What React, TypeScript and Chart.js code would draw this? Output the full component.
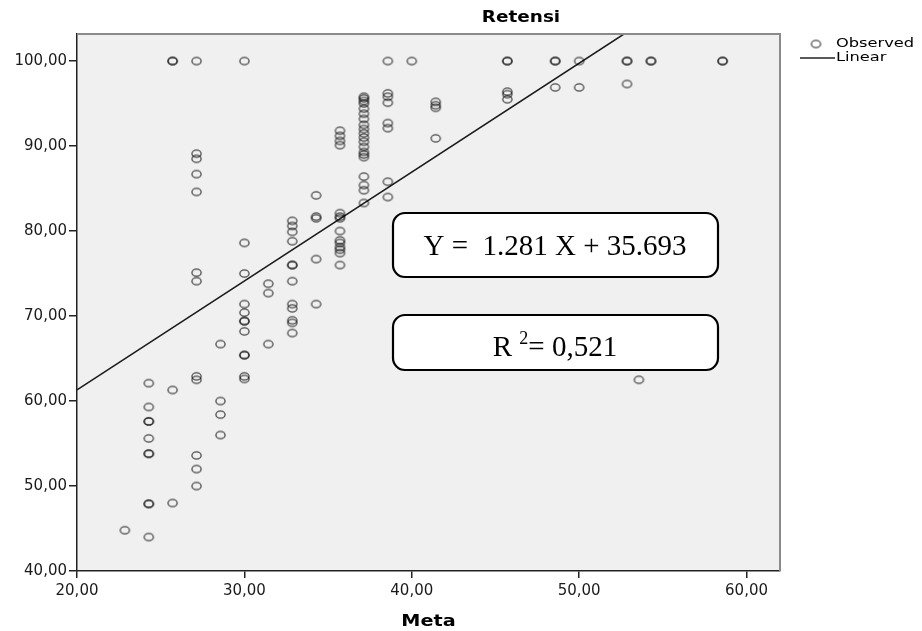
import React, { useEffect, useRef } from 'react';
import { Chart, registerables } from 'chart.js';

Chart.register(...registerables);

// Meta (x) and Retensi (y) observations, grouped by Meta column
const meta: number[] = [
  22.86,
  24.29, 24.29, 24.29, 24.29, 24.29, 24.29, 24.29, 24.29, 24.29, 24.29,
  25.71, 25.71, 25.71, 25.71,
  27.14, 27.14, 27.14, 27.14, 27.14, 27.14, 27.14, 27.14, 27.14, 27.14, 27.14, 27.14,
  28.57, 28.57, 28.57, 28.57,
  30, 30, 30, 30, 30, 30, 30, 30, 30, 30, 30, 30,
  31.43, 31.43, 31.43,
  32.86, 32.86, 32.86, 32.86, 32.86, 32.86, 32.86, 32.86, 32.86, 32.86, 32.86, 32.86,
  34.29, 34.29, 34.29, 34.29, 34.29,
  35.71, 35.71, 35.71, 35.71, 35.71, 35.71, 35.71, 35.71, 35.71, 35.71, 35.71, 35.71, 35.71, 35.71,
  37.14, 37.14, 37.14, 37.14, 37.14, 37.14, 37.14, 37.14, 37.14, 37.14,
  37.14, 37.14, 37.14, 37.14, 37.14, 37.14, 37.14, 37.14, 37.14, 37.14,
  38.57, 38.57, 38.57, 38.57, 38.57, 38.57, 38.57, 38.57,
  40,
  41.43, 41.43, 41.43, 41.43,
  45.71, 45.71, 45.71, 45.71, 45.71,
  48.57, 48.57, 48.57,
  50, 50,
  52.86, 52.86, 52.86,
  53.57,
  54.29, 54.29,
  58.57, 58.57,
];

const retensi: number[] = [
  44.8,
  62.1, 59.3, 57.6, 57.6, 55.6, 53.8, 53.8, 47.9, 47.9, 44.0,
  100, 100, 61.3, 48.0,
  100, 89.1, 88.5, 86.7, 84.6, 75.1, 74.1, 62.9, 62.5, 53.6, 52.0, 50.0,
  66.7, 60.0, 58.4, 56.0,
  100, 78.6, 75.0, 71.4, 70.4, 69.4, 69.4, 68.2, 65.4, 65.4, 62.9, 62.6,
  73.8, 72.7, 66.7,
  81.2, 80.6, 79.9, 78.8, 76.0, 76.0, 74.1, 71.4, 70.9, 69.5, 69.2, 68.0,
  84.2, 81.7, 81.5, 76.7, 71.4,
  91.8, 91.2, 90.6, 90.1, 82.1, 81.7, 81.5, 80.0, 78.9, 78.6, 78.1, 77.8, 77.4, 76.0,
  95.8, 95.6, 95.3, 95.0, 94.4, 93.8, 93.2, 92.5, 92.0, 91.5,
  91.0, 90.5, 89.9, 89.3, 89.0, 88.7, 86.4, 85.4, 84.8, 83.3,
  100, 96.2, 95.8, 95.1, 92.7, 92.1, 85.8, 84.0,
  100,
  95.2, 94.8, 94.5, 90.9,
  100, 100, 96.4, 96.1, 95.5,
  100, 100, 96.9,
  100, 96.9,
  100, 100, 97.3,
  62.5,
  100, 100,
  100, 100,
];

// Regression fit
const slope = 1.281;
const intercept = 35.693;
const rSquared = '0,521';

const xRange = [20, 62];
const yRange = [40, 103.18];
const xTicks = [20, 30, 40, 50, 60];
const yTicks = [40, 50, 60, 70, 80, 90, 100];

const chartTitle = 'Retensi';
const xTitle = 'Meta';
const legendLabels = ['Observed', 'Linear'];
const equationText = `Y =  ${slope} X + ${intercept}`;

const fmt = (v: number) => v.toFixed(2).replace('.', ',');

function makeRing(): HTMLCanvasElement {
  const c = document.createElement('canvas');
  c.width = 13;
  c.height = 11;
  const g = c.getContext('2d')!;
  g.strokeStyle = 'rgba(0,0,0,0.7)';
  g.lineWidth = 1.3;
  g.beginPath();
  g.ellipse(6.5, 5.5, 4.6, 3.6, 0, 0, Math.PI * 2);
  g.stroke();
  return c;
}

function scaledText(
  ctx: CanvasRenderingContext2D,
  text: string,
  x: number,
  y: number,
  font: string,
  align: CanvasTextAlign,
  sx: number,
  baseline: CanvasTextBaseline = 'alphabetic'
) {
  ctx.save();
  ctx.font = font;
  ctx.textAlign = align;
  ctx.textBaseline = baseline;
  ctx.fillStyle = '#000';
  ctx.translate(x, y);
  ctx.scale(sx, 1);
  ctx.fillText(text, 0, 0);
  ctx.restore();
}

export default function App() {
  const ref = useRef<HTMLCanvasElement>(null);

  useEffect(() => {
    if (!ref.current) return;
    const ring = makeRing();

    const points = meta.map((m, i) => ({ x: m, y: retensi[i] }));
    const linePts = [
      { x: xRange[0], y: slope * xRange[0] + intercept },
      { x: xRange[1], y: slope * xRange[1] + intercept },
    ];

    const decor = {
      id: 'decor',
      beforeDraw(chart: any) {
        const { ctx, chartArea: a } = chart;
        ctx.save();
        ctx.fillStyle = '#f0f0f0';
        ctx.fillRect(a.left, a.top, a.right - a.left, a.bottom - a.top);
        ctx.restore();
      },
      afterDraw(chart: any) {
        const { ctx, chartArea: a } = chart;
        ctx.save();
        ctx.strokeStyle = '#8a8a8a';
        ctx.lineWidth = 2;
        ctx.beginPath();
        ctx.moveTo(a.left, a.top);
        ctx.lineTo(a.right, a.top);
        ctx.lineTo(a.right, a.bottom);
        ctx.stroke();
        ctx.restore();

        scaledText(ctx, chartTitle, 521, 22, 'bold 16px "DejaVu Sans"', 'center', 1.15);
        scaledText(ctx, xTitle, (a.left + a.right) / 2, 626, 'bold 16px "DejaVu Sans"', 'center', 1.2);

        // legend
        ctx.drawImage(ring, 816 - 6.5, 44 - 5.5);
        scaledText(ctx, legendLabels[0], 836, 44, '13px "DejaVu Sans"', 'left', 1.25, 'middle');
        ctx.save();
        ctx.strokeStyle = '#222';
        ctx.lineWidth = 1.3;
        ctx.beginPath();
        ctx.moveTo(800, 58);
        ctx.lineTo(835, 58);
        ctx.stroke();
        ctx.restore();
        scaledText(ctx, legendLabels[1], 836, 58, '13px "DejaVu Sans"', 'left', 1.25, 'middle');

        const box = (x: number, y: number, w: number, h: number) => {
          ctx.save();
          ctx.beginPath();
          ctx.roundRect(x, y, w, h, 12);
          ctx.fillStyle = '#fff';
          ctx.fill();
          ctx.strokeStyle = '#000';
          ctx.lineWidth = 2.2;
          ctx.stroke();
          ctx.restore();
        };
        box(393, 213, 325, 64);
        box(393, 315, 325, 55);

        const big = '29px "Liberation Serif"';
        const small = '18px "Liberation Serif"';
        ctx.save();
        ctx.fillStyle = '#000';
        ctx.font = big;
        ctx.textAlign = 'center';
        ctx.textBaseline = 'alphabetic';
        ctx.fillText(equationText, 555, 255);

        ctx.textAlign = 'left';
        ctx.font = big;
        const w1 = ctx.measureText('R ').width;
        const w3 = ctx.measureText('= ' + rSquared).width;
        ctx.font = small;
        const w2 = ctx.measureText('2').width;
        const sx = 555 - (w1 + w2 + w3) / 2;
        ctx.font = big;
        ctx.fillText('R ', sx, 356);
        ctx.font = small;
        ctx.fillText('2', sx + w1, 344);
        ctx.font = big;
        ctx.fillText('= ' + rSquared, sx + w1 + w2, 356);
        ctx.restore();
      },
    };

    const chart = new Chart(ref.current, {
      type: 'scatter',
      data: {
        datasets: [
          {
            type: 'scatter',
            label: legendLabels[0],
            data: points,
            pointStyle: ring as any,
            pointRadius: 5,
            pointHoverRadius: 5,
          },
          {
            type: 'line',
            label: legendLabels[1],
            data: linePts,
            borderColor: '#1a1a1a',
            borderWidth: 1.6,
            pointRadius: 0,
            fill: false,
          },
        ],
      },
      options: {
        animation: false,
        responsive: false,
        devicePixelRatio: 1,
        events: [],
        layout: { padding: { top: 34, right: 142, left: 0, bottom: 0 } },
        plugins: {
          legend: { display: false },
          title: { display: false },
          tooltip: { enabled: false },
        },
        scales: {
          x: {
            type: 'linear',
            min: xRange[0],
            max: xRange[1],
            afterFit: (s: any) => {
              s.height = 60;
            },
            afterBuildTicks: (s: any) => {
              s.ticks = xTicks.map((v) => ({ value: v }));
            },
            ticks: {
              autoSkip: false,
              maxRotation: 0,
              padding: 4,
              color: '#1a1a1a',
              font: { family: '"DejaVu Sans"', size: 15 },
              callback: (v: any) => fmt(Number(v)),
            },
            grid: {
              display: true,
              drawOnChartArea: false,
              drawTicks: true,
              tickLength: 7,
              color: '#222',
              lineWidth: 1.5,
            },
            border: { display: true, color: '#222', width: 1.5 },
          },
          y: {
            type: 'linear',
            min: yRange[0],
            max: yRange[1],
            afterFit: (s: any) => {
              s.width = 77;
            },
            afterBuildTicks: (s: any) => {
              s.ticks = yTicks.map((v) => ({ value: v }));
            },
            ticks: {
              autoSkip: false,
              padding: 2,
              color: '#1a1a1a',
              font: { family: '"DejaVu Sans"', size: 15 },
              callback: (v: any) => fmt(Number(v)),
            },
            grid: {
              display: true,
              drawOnChartArea: false,
              drawTicks: true,
              tickLength: 8,
              color: '#222',
              lineWidth: 1.5,
            },
            border: { display: true, color: '#222', width: 1.5 },
          },
        },
      },
      plugins: [decor],
    } as any);

    return () => chart.destroy();
  }, []);

  return (
    <div style={{ position: 'absolute', left: 0, top: 0, width: 922, height: 631, background: '#fff' }}>
      <canvas ref={ref} width={922} height={631} style={{ display: 'block' }} />
    </div>
  );
}
